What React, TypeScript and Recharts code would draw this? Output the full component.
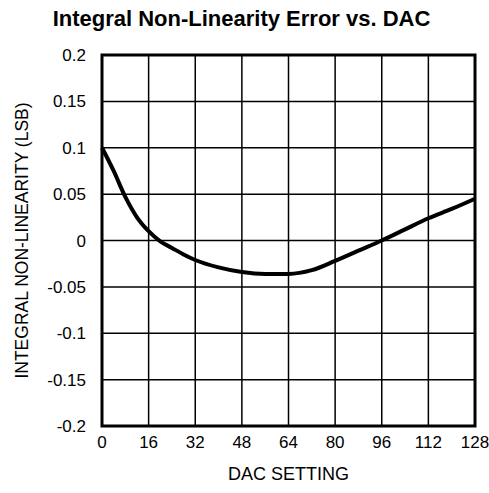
import {
  LineChart,
  Line,
  XAxis,
  YAxis,
  CartesianGrid,
  ReferenceArea,
  Label,
} from "recharts";

const dacSetting = [0, 4, 8, 12, 16, 20, 24, 28, 32, 40, 48, 56, 64, 72, 80, 88, 96, 104, 112, 120, 128];
const inlError = [0.1, 0.075, 0.047, 0.025, 0.01, -0.001, -0.008, -0.015, -0.021, -0.029, -0.034, -0.036, -0.036, -0.032, -0.022, -0.011, 0.0, 0.012, 0.024, 0.034, 0.045];
const xTicks = [0, 16, 32, 48, 64, 80, 96, 112, 128];
const yTicks = [-0.2, -0.15, -0.1, -0.05, 0, 0.05, 0.1, 0.15, 0.2];

const data = dacSetting.map((d, i) => ({ dac: d, inl: inlError[i] }));

const font = "'Liberation Sans', Arial, sans-serif";

export default function App() {
  return (
    <div style={{ position: "absolute", left: 0, top: 0, width: 489, height: 493, background: "#fff" }}>
      <div
        style={{
          position: "absolute",
          top: 6,
          left: 0,
          width: 483,
          textAlign: "center",
          fontFamily: font,
          fontWeight: "bold",
          fontSize: 22,
          color: "#000",
        }}
      >
        Integral Non-Linearity Error vs. DAC
      </div>
      <LineChart
        width={489}
        height={493}
        data={data}
        margin={{ top: 55, right: 14, left: 0, bottom: 0 }}
      >
        <CartesianGrid stroke="#000" strokeWidth={1.5} />
        <XAxis
          dataKey="dac"
          type="number"
          domain={[0, 128]}
          ticks={xTicks}
          tickLine={false}
          axisLine={false}
          height={67}
          tickMargin={4}
          tick={{ fontSize: 17, fill: "#000", fontFamily: font }}
        >
          <Label value="DAC SETTING" position="insideBottom" offset={13} style={{ fontSize: 18, fill: "#000", fontFamily: font }} />
        </XAxis>
        <YAxis
          type="number"
          domain={[-0.2, 0.2]}
          ticks={yTicks}
          tickLine={false}
          axisLine={false}
          width={102}
          tickMargin={10}
          tick={{ fontSize: 17, fill: "#000", fontFamily: font }}
        >
          <Label
            value="INTEGRAL NON-LINEARITY (LSB)"
            angle={-90}
            position="insideLeft"
            offset={22}
            style={{ textAnchor: "middle", fontSize: 17.5, fill: "#000", fontFamily: font }}
          />
        </YAxis>
        <ReferenceArea x1={0} x2={128} y1={-0.2} y2={0.2} fill="none" stroke="#000" strokeWidth={3} ifOverflow="visible" />
        <Line
          type="monotone"
          dataKey="inl"
          stroke="#000"
          strokeWidth={4}
          dot={false}
          isAnimationActive={false}
        />
      </LineChart>
    </div>
  );
}
